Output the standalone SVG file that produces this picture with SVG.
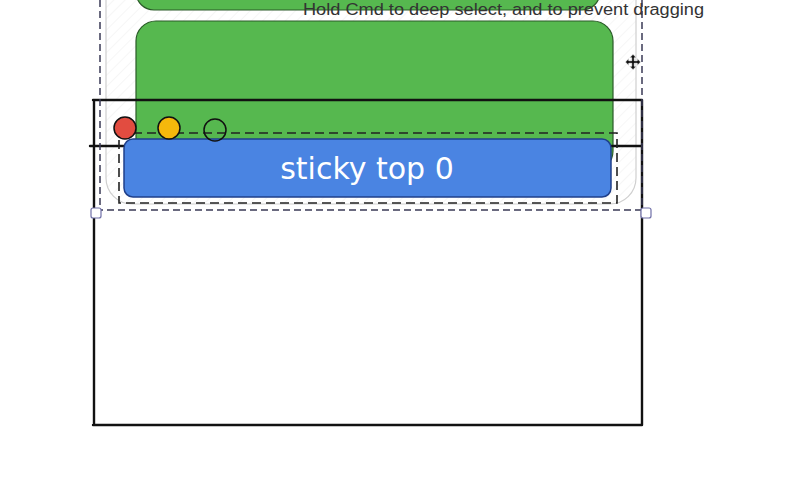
<svg xmlns="http://www.w3.org/2000/svg" width="798" height="500" viewBox="0 0 798 500">
<defs>
<style>
.sketch{fill:none;stroke:#111;stroke-width:2.4;stroke-linecap:round}
.sel{fill:none;stroke:#3a3a55;stroke-width:1.5;stroke-dasharray:7 4}
.handle{fill:#fff;stroke:#7070a8;stroke-width:1.2}
.green{fill:#56b84f;stroke:#2a5a28;stroke-width:1.2}
.dot{stroke:#111;stroke-width:1.5}
</style>
<pattern id="hatch" width="8" height="8" patternUnits="userSpaceOnUse" patternTransform="rotate(45)">
<line x1="0" y1="0" x2="0" y2="8" stroke="#eeeeee" stroke-width="1"/>
</pattern>
</defs>
<rect width="798" height="500" fill="#fff"/>
<g id="frame">
<rect x="106" y="-30" width="530" height="234" rx="26" fill="url(#hatch)" stroke="#cfcfcf" stroke-width="1.2"/>
</g>
<g id="green-top">
<rect x="136" y="-40" width="464" height="50" rx="18" class="green"/>
</g>
<g id="hint">
<text x="303" y="15" font-family="Liberation Sans, Arial, sans-serif" font-size="16" fill="#333" textLength="401" lengthAdjust="spacingAndGlyphs">Hold Cmd to deep select, and to prevent dragging</text>
</g>
<g id="green-card">
<rect x="136" y="21" width="477" height="150" rx="20" class="green"/>
</g>
<g id="viewport">
<path class="sketch" d="M93 100 L642 100 M94 100 L94 425 M642 100 L642 425 M93 425 L642 425 M90 146 L642 146"/>
</g>
<g id="sticky-outline">
<rect x="119" y="133" width="498" height="70" fill="none" stroke="#222" stroke-width="1.6" stroke-dasharray="9 5"/>
</g>
<g id="sticky">
<rect x="124" y="139" width="487" height="58" rx="9" fill="#4a84e2" stroke="#1f3f8a" stroke-width="1.5"/>
<text x="367" y="179" text-anchor="middle" font-family="DejaVu Sans, sans-serif" font-size="30" fill="#fff">sticky top 0</text>
</g>
<g id="dots">
<circle cx="125" cy="128" r="11" fill="#e24c40" class="dot"/>
<circle cx="169" cy="128" r="11" fill="#f5b80c" class="dot"/>
<circle cx="215" cy="130" r="11" fill="none" class="dot"/>
</g>
<g id="selection">
<path class="sel" d="M100 0 L100 210 M642 0 L642 210 M96 210 L646 210"/>
<rect x="91" y="208" width="10" height="10" rx="2" class="handle"/>
<rect x="641" y="208" width="10" height="10" rx="2" class="handle"/>
</g>
<g id="cursor">
<path d="M633 53 L637 57 L634.5 57 L634.5 60.5 L638 60.5 L638 58 L642 62 L638 66 L638 63.5 L634.5 63.5 L634.5 67 L637 67 L633 71 L629 67 L631.5 67 L631.5 63.5 L628 63.5 L628 66 L624 62 L628 58 L628 60.5 L631.5 60.5 L631.5 57 L629 57 Z" fill="#111" stroke="#fff" stroke-width="0.8" transform="translate(633 62) scale(0.85) translate(-633 -62)"/>
</g>
</svg>
